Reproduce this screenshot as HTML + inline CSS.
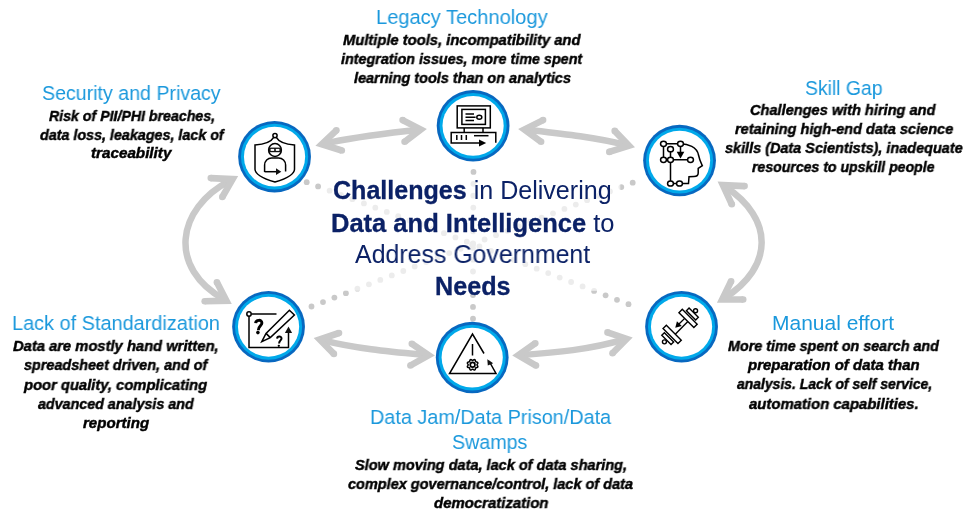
<!DOCTYPE html>
<html><head><meta charset="utf-8"><title>Challenges in Delivering Data and Intelligence</title>
<style>
html,body{margin:0;padding:0;background:#fff;}
body{width:970px;height:518px;position:relative;overflow:hidden;font-family:"Liberation Sans",sans-serif;}
svg.g{position:absolute;left:0;top:0;}
.t{position:absolute;white-space:nowrap;transform-origin:0 0;will-change:transform;}
.title{font:20.5px "Liberation Sans";line-height:20.5px;color:#1a98dc;}
.body{font:italic bold 15.0px "Liberation Sans";line-height:15.0px;color:#000000;-webkit-text-stroke:0.45px #000;}
.ctr{font-size:25.0px;line-height:25.0px;color:#0b2166;text-shadow:0 0 1px #fff,0 0 1px #fff,0 0 1px #fff;}
.cbold{font-weight:bold;-webkit-text-stroke:0.3px #0b2166;}
.creg{font-weight:normal;}
</style></head>
<body>
<svg class="g" width="970" height="518" viewBox="0 0 970 518">
<g fill="#c9c9c9"><circle cx="306.7" cy="182.2" r="2.9"/><circle cx="318.1" cy="186.4" r="2.9"/><circle cx="329.6" cy="190.7" r="2.9"/><circle cx="341.0" cy="194.9" r="2.9"/><circle cx="352.4" cy="199.2" r="2.9"/><circle cx="363.9" cy="203.4" r="2.9"/><circle cx="375.3" cy="207.7" r="2.9"/><circle cx="386.8" cy="211.9" r="2.9"/><circle cx="398.2" cy="216.2" r="2.9"/><circle cx="409.6" cy="220.4" r="2.9"/><circle cx="421.1" cy="224.7" r="2.9"/><circle cx="432.5" cy="228.9" r="2.9"/><circle cx="443.9" cy="233.2" r="2.9"/><circle cx="455.4" cy="237.4" r="2.9"/><circle cx="466.8" cy="241.7" r="2.9"/><circle cx="632.7" cy="182.7" r="2.9"/><circle cx="621.3" cy="187.1" r="2.9"/><circle cx="609.9" cy="191.4" r="2.9"/><circle cx="598.5" cy="195.8" r="2.9"/><circle cx="587.1" cy="200.2" r="2.9"/><circle cx="575.8" cy="204.6" r="2.9"/><circle cx="564.4" cy="208.9" r="2.9"/><circle cx="553.0" cy="213.3" r="2.9"/><circle cx="541.6" cy="217.7" r="2.9"/><circle cx="530.2" cy="222.0" r="2.9"/><circle cx="518.8" cy="226.4" r="2.9"/><circle cx="507.4" cy="230.8" r="2.9"/><circle cx="496.0" cy="235.2" r="2.9"/><circle cx="484.6" cy="239.5" r="2.9"/><circle cx="473.2" cy="243.9" r="2.9"/><circle cx="311.5" cy="306.5" r="2.9"/><circle cx="323.0" cy="302.1" r="2.9"/><circle cx="334.4" cy="297.6" r="2.9"/><circle cx="345.9" cy="293.2" r="2.9"/><circle cx="357.4" cy="288.7" r="2.9"/><circle cx="368.9" cy="284.3" r="2.9"/><circle cx="380.3" cy="279.9" r="2.9"/><circle cx="391.8" cy="275.4" r="2.9"/><circle cx="403.3" cy="271.0" r="2.9"/><circle cx="414.7" cy="266.5" r="2.9"/><circle cx="426.2" cy="262.1" r="2.9"/><circle cx="437.7" cy="257.7" r="2.9"/><circle cx="449.2" cy="253.2" r="2.9"/><circle cx="460.6" cy="248.8" r="2.9"/><circle cx="472.1" cy="244.4" r="2.9"/><circle cx="628.5" cy="304.2" r="2.9"/><circle cx="617.0" cy="299.8" r="2.9"/><circle cx="605.6" cy="295.3" r="2.9"/><circle cx="594.1" cy="290.9" r="2.9"/><circle cx="582.6" cy="286.4" r="2.9"/><circle cx="571.1" cy="282.0" r="2.9"/><circle cx="559.7" cy="277.6" r="2.9"/><circle cx="548.2" cy="273.1" r="2.9"/><circle cx="536.7" cy="268.7" r="2.9"/><circle cx="525.3" cy="264.2" r="2.9"/><circle cx="513.8" cy="259.8" r="2.9"/><circle cx="502.3" cy="255.4" r="2.9"/><circle cx="490.9" cy="250.9" r="2.9"/><circle cx="479.4" cy="246.5" r="2.9"/><circle cx="473.5" cy="171.9" r="2.9"/><circle cx="473.4" cy="183.8" r="2.9"/><circle cx="473.3" cy="195.7" r="2.9"/><circle cx="473.3" cy="207.6" r="2.9"/><circle cx="473.2" cy="219.5" r="2.9"/><circle cx="473.1" cy="231.4" r="2.9"/><circle cx="473.0" cy="243.3" r="2.9"/><circle cx="473.0" cy="318.7" r="2.9"/><circle cx="473.0" cy="306.9" r="2.9"/><circle cx="473.0" cy="295.1" r="2.9"/><circle cx="473.0" cy="283.3" r="2.9"/><circle cx="473.0" cy="271.5" r="2.9"/><circle cx="473.0" cy="259.7" r="2.9"/><circle cx="473.0" cy="247.9" r="2.9"/></g>
<rect x="324" y="178" width="296.3" height="112.8" fill="#fff" fill-opacity="0.65"/>
<path d="M324.28,143.71 C355.20,136.51 386.81,133.36 418.29,129.67" fill="none" stroke="#c9c9c9" stroke-width="6.5" stroke-linecap="butt"/>
<path d="M315.40,145.80 L334.12,127.91 L338.68,132.69 L328.08,142.81 L342.77,147.35 L340.83,153.65 Z" fill="#c9c9c9"/><circle cx="336.40" cy="130.30" r="3.30" fill="#c9c9c9"/><circle cx="341.80" cy="150.50" r="3.30" fill="#c9c9c9"/>
<path d="M426.90,128.90 L404.11,117.17 L401.09,123.03 L414.61,129.99 L402.60,139.18 L406.60,144.42 Z" fill="#c9c9c9"/><circle cx="402.60" cy="120.10" r="3.30" fill="#c9c9c9"/><circle cx="404.60" cy="141.80" r="3.30" fill="#c9c9c9"/>
<path d="M526.91,129.67 C560.36,133.43 593.78,136.85 626.51,145.05" fill="none" stroke="#c9c9c9" stroke-width="6.5" stroke-linecap="butt"/>
<path d="M518.10,128.90 L541.63,117.15 L544.57,123.05 L530.68,129.99 L543.06,139.15 L539.14,144.45 Z" fill="#c9c9c9"/><circle cx="543.10" cy="120.10" r="3.30" fill="#c9c9c9"/><circle cx="541.10" cy="141.80" r="3.30" fill="#c9c9c9"/>
<path d="M635.00,147.20 L617.08,128.61 L612.32,133.19 L622.87,144.13 L608.30,148.75 L610.30,155.05 Z" fill="#c9c9c9"/><circle cx="614.70" cy="130.90" r="3.30" fill="#c9c9c9"/><circle cx="609.30" cy="151.90" r="3.30" fill="#c9c9c9"/>
<path d="M230.40,180.35 C175.40,208.82 168.08,268.35 224.29,299.45" fill="none" stroke="#c9c9c9" stroke-width="6.5" stroke-linecap="butt"/>
<path d="M238.20,176.10 L210.96,174.80 L210.64,181.40 L227.06,182.18 L219.44,195.35 L225.16,198.65 Z" fill="#c9c9c9"/><circle cx="210.80" cy="178.10" r="3.30" fill="#c9c9c9"/><circle cx="222.30" cy="197.00" r="3.30" fill="#c9c9c9"/>
<path d="M231.80,303.90 L219.83,280.78 L213.97,283.82 L221.07,297.54 L204.63,297.90 L204.77,304.50 Z" fill="#c9c9c9"/><circle cx="216.90" cy="282.30" r="3.30" fill="#c9c9c9"/><circle cx="204.70" cy="301.20" r="3.30" fill="#c9c9c9"/>
<path d="M725.00,186.55 C774.31,218.67 773.67,267.11 724.29,298.18" fill="none" stroke="#c9c9c9" stroke-width="6.5" stroke-linecap="butt"/>
<path d="M717.60,181.60 L744.75,182.80 L744.45,189.40 L728.17,188.68 L734.79,202.91 L728.81,205.69 Z" fill="#c9c9c9"/><circle cx="744.60" cy="186.10" r="3.30" fill="#c9c9c9"/><circle cx="731.80" cy="204.30" r="3.30" fill="#c9c9c9"/>
<path d="M716.90,302.80 L728.13,279.75 L734.07,282.65 L727.46,296.20 L743.20,296.20 L743.20,302.80 Z" fill="#c9c9c9"/><circle cx="731.10" cy="281.20" r="3.30" fill="#c9c9c9"/><circle cx="743.20" cy="299.50" r="3.30" fill="#c9c9c9"/>
<path d="M322.16,340.04 C356.26,348.66 391.26,351.72 426.13,355.06" fill="none" stroke="#c9c9c9" stroke-width="6.5" stroke-linecap="butt"/>
<path d="M313.70,338.00 L337.95,329.87 L340.05,336.13 L325.79,340.91 L336.26,351.59 L331.54,356.21 Z" fill="#c9c9c9"/><circle cx="339.00" cy="333.00" r="3.30" fill="#c9c9c9"/><circle cx="333.90" cy="353.90" r="3.30" fill="#c9c9c9"/>
<path d="M434.90,355.40 L413.65,341.06 L409.95,346.54 L422.38,354.91 L408.77,362.63 L412.03,368.37 Z" fill="#c9c9c9"/><circle cx="411.80" cy="343.80" r="3.30" fill="#c9c9c9"/><circle cx="410.40" cy="365.50" r="3.30" fill="#c9c9c9"/>
<path d="M520.72,355.13 C555.57,352.65 590.62,349.54 624.24,339.43" fill="none" stroke="#c9c9c9" stroke-width="6.5" stroke-linecap="butt"/>
<path d="M512.20,355.50 L533.39,340.51 L537.21,345.89 L524.37,354.97 L537.67,362.75 L534.33,368.45 Z" fill="#c9c9c9"/><circle cx="535.30" cy="343.20" r="3.30" fill="#c9c9c9"/><circle cx="536.00" cy="365.60" r="3.30" fill="#c9c9c9"/>
<path d="M632.70,337.40 L608.55,329.27 L606.45,335.53 L620.62,340.30 L610.14,350.99 L614.86,355.61 Z" fill="#c9c9c9"/><circle cx="607.50" cy="332.40" r="3.30" fill="#c9c9c9"/><circle cx="612.50" cy="353.30" r="3.30" fill="#c9c9c9"/>
<ellipse cx="274.55" cy="156.7" rx="36.4" ry="35.7" fill="#0868c0"/><ellipse cx="274.55" cy="156.7" rx="33.6" ry="32.9" fill="#00a9ea"/><ellipse cx="274.55" cy="156.7" rx="30.6" ry="29.9" fill="#fff"/>
<ellipse cx="473.1" cy="125.8" rx="36.4" ry="35.7" fill="#0868c0"/><ellipse cx="473.1" cy="125.8" rx="33.6" ry="32.9" fill="#00a9ea"/><ellipse cx="473.1" cy="125.8" rx="30.6" ry="29.9" fill="#fff"/>
<ellipse cx="679.55" cy="160.55" rx="36.4" ry="35.7" fill="#0868c0"/><ellipse cx="679.55" cy="160.55" rx="33.6" ry="32.9" fill="#00a9ea"/><ellipse cx="679.55" cy="160.55" rx="30.6" ry="29.9" fill="#fff"/>
<ellipse cx="268.55" cy="326.75" rx="36.4" ry="35.7" fill="#0868c0"/><ellipse cx="268.55" cy="326.75" rx="33.6" ry="32.9" fill="#00a9ea"/><ellipse cx="268.55" cy="326.75" rx="30.6" ry="29.9" fill="#fff"/>
<ellipse cx="472.2" cy="357.55" rx="36.4" ry="35.7" fill="#0868c0"/><ellipse cx="472.2" cy="357.55" rx="33.6" ry="32.9" fill="#00a9ea"/><ellipse cx="472.2" cy="357.55" rx="30.6" ry="29.9" fill="#fff"/>
<ellipse cx="681.55" cy="326.75" rx="36.4" ry="35.7" fill="#0868c0"/><ellipse cx="681.55" cy="326.75" rx="33.6" ry="32.9" fill="#00a9ea"/><ellipse cx="681.55" cy="326.75" rx="30.6" ry="29.9" fill="#fff"/>
<g fill="none" stroke="#000" stroke-width="1.5" stroke-linejoin="miter"><circle cx="275" cy="135.6" r="2.1"/><path d="M273.7,137.4 Q270,144 255,145 V168.8 Q254.5,175.8 275,182 Q295,175.8 294.5,168.8 V145 Q280,144 276.3,137.4"/><circle cx="275" cy="150" r="6.4"/><path d="M264.6,172 V165 A7,7 0 0 1 271.6,158 H278.6 A7,7 0 0 1 285.6,165 V171.5"/><path d="M264.6,171.7 H276.5"/></g>
<g fill="#111"><path d="M276,168.3 L281.3,171.7 L276,175.1 Z"/><rect x="268.6" y="147.6" width="12.8" height="4.6"/></g><g fill="#fff"><rect x="270.6" y="148.9" width="3.6" height="2"/><rect x="275.8" y="148.9" width="3.6" height="2"/></g>
<g fill="none" stroke="#000" stroke-width="1.5"><rect x="457.2" y="105.9" width="33.1" height="22.0"/><rect x="461.9" y="109.4" width="23.5" height="15.0"/><path d="M465.5,114 H474 M465.5,117.2 H475.6 M465.5,120.5 H474"/><ellipse cx="479.3" cy="117.3" rx="2.5" ry="2.0"/><path d="M464.2,127.9 V132.5 M483.0,127.9 V132.5"/><path d="M479,143 H451.2 V132.5 H495.8 V142.8"/><path d="M456.8,135 V140 M461.5,135 V140 M466.3,135 V140"/><path d="M474,135.7 H488.5"/></g><path d="M479.0,139.5 L486.2,143 L479.0,146.5 Z" fill="#000"/>
<g fill="none" stroke="#000" stroke-width="1.5"><path d="M663.5,143.8 H680.5 M663.5,143.8 V159.8 M670.5,149.2 V183.5 M663.5,159.8 H690.5 M670.5,183.5 H679.5"/><path d="M680.5,143.8 C688,143.8 697,147 698.5,155 C699.5,160 701,163 702.3,165.7 L698.2,168.5 L698.2,173 C698.2,175.5 697,176.5 694,176.5 L689,176.8 L688.5,183.5 H679.5"/><path d="M680.5,143.8 V153"/></g><path d="M676.7,151.8 L684.3,151.8 L680.5,158.4 Z" fill="#000"/><g fill="#fff" stroke="#000" stroke-width="1.5"><ellipse cx="663.5" cy="143.8" rx="2.95" ry="2.6"/><ellipse cx="680.5" cy="143.8" rx="2.95" ry="2.6"/><ellipse cx="670.5" cy="149.2" rx="2.95" ry="2.6"/><ellipse cx="663.5" cy="159.8" rx="2.95" ry="2.6"/><ellipse cx="670.5" cy="159.8" rx="2.95" ry="2.6"/><ellipse cx="690.5" cy="159.8" rx="2.95" ry="2.6"/><ellipse cx="670.5" cy="183.5" rx="2.95" ry="2.6"/><ellipse cx="679.5" cy="183.5" rx="2.95" ry="2.6"/></g>
<g fill="none" stroke="#000" stroke-width="1.5"><path d="M251.3,314 H276.5"/><path d="M249,316.3 V347.5 H288.5 V332"/><circle cx="249" cy="314" r="2.2"/><path d="M261.8,341.7 L266,333.4 L289.4,310.2 L294.4,315.0 L270.3,337.6 Z M266,333.4 L270.3,337.6"/></g><path d="M284.9,333 L288.5,326.6 L292.1,333 Z" fill="#111"/><path d="M255.6,323.2 C255.8,319.6 261.9,319.2 261.9,323 C261.9,325.6 258.3,326.2 258.3,330.2" fill="none" stroke="#000" stroke-width="2.9"/><circle cx="257.9" cy="332.6" r="1.8" fill="#000"/><path d="M277.1,338.6 C277.2,335.9 281.5,335.7 281.5,338.4 C281.5,340.3 279.1,340.6 279.1,343.4" fill="none" stroke="#000" stroke-width="2.0"/><circle cx="278.8" cy="345.8" r="1.15" fill="#000"/>
<g fill="none" stroke="#000" stroke-width="1.5"><path d="M484,353.5 L472.5,334 L449.5,373.5 H496 L489,361"/><path d="M472.5,344 V355.5"/></g><path d="M487.3,359.2 L493.2,363.2 L487.8,365.6 Z" fill="#111"/>
<path d="M477.00,364.80 L477.07,365.09 L477.26,365.41 L477.50,365.78 L477.72,366.17 L477.83,366.57 L477.77,366.94 L477.55,367.24 L477.19,367.45 L476.76,367.58 L476.33,367.66 L475.97,367.75 L475.71,367.91 L475.55,368.17 L475.46,368.53 L475.38,368.96 L475.25,369.39 L475.04,369.75 L474.74,369.97 L474.37,370.03 L473.97,369.92 L473.58,369.70 L473.21,369.46 L472.89,369.27 L472.60,369.20 L472.31,369.27 L471.99,369.46 L471.62,369.70 L471.23,369.92 L470.83,370.03 L470.46,369.97 L470.16,369.75 L469.95,369.39 L469.82,368.96 L469.74,368.53 L469.65,368.17 L469.49,367.91 L469.23,367.75 L468.87,367.66 L468.44,367.58 L468.01,367.45 L467.65,367.24 L467.43,366.94 L467.37,366.57 L467.48,366.17 L467.70,365.78 L467.94,365.41 L468.13,365.09 L468.20,364.80 L468.13,364.51 L467.94,364.19 L467.70,363.82 L467.48,363.43 L467.37,363.03 L467.43,362.66 L467.65,362.36 L468.01,362.15 L468.44,362.02 L468.87,361.94 L469.23,361.85 L469.49,361.69 L469.65,361.43 L469.74,361.07 L469.82,360.64 L469.95,360.21 L470.16,359.85 L470.46,359.63 L470.83,359.57 L471.23,359.68 L471.62,359.90 L471.99,360.14 L472.31,360.33 L472.60,360.40 L472.89,360.33 L473.21,360.14 L473.58,359.90 L473.97,359.68 L474.37,359.57 L474.74,359.63 L475.04,359.85 L475.25,360.21 L475.38,360.64 L475.46,361.07 L475.55,361.43 L475.71,361.69 L475.97,361.85 L476.33,361.94 L476.76,362.02 L477.19,362.15 L477.55,362.36 L477.77,362.66 L477.83,363.03 L477.72,363.43 L477.50,363.82 L477.26,364.19 L477.07,364.51 Z" fill="#fff" stroke="#000" stroke-width="1.5" stroke-linejoin="round"/>
<circle cx="472.6" cy="364.8" r="2.35" fill="#fff" stroke="#000" stroke-width="1.7"/>
<circle cx="695.56" cy="310.74" r="2.0" fill="#fff" stroke="#000" stroke-width="1.4"/><path d="M686.43,310.67 L689.05,308.06 L698.31,317.32 L695.70,319.94 Z" fill="#fff" stroke="#000" stroke-width="1.4"/><path d="M678.94,312.65 L682.26,309.33 L697.18,324.25 L693.86,327.57 Z" fill="#fff" stroke="#000" stroke-width="1.4"/><circle cx="664.44" cy="341.86" r="2.0" fill="#fff" stroke="#000" stroke-width="1.4"/><path d="M664.37,332.73 L661.76,335.35 L671.02,344.61 L673.64,342.00 Z" fill="#fff" stroke="#000" stroke-width="1.4"/><path d="M666.35,325.24 L663.03,328.56 L677.95,343.48 L681.27,340.16 Z" fill="#fff" stroke="#000" stroke-width="1.4"/><path d="M687.85,321.56 L675.26,334.15" stroke="#000" stroke-width="1.4"/><path d="M684.67,318.38 L678.73,324.32" stroke="#000" stroke-width="1.4"/><path d="M675.26,327.78 L676.96,321.28 L681.77,326.09 Z" fill="#000"/>
</svg>
<div class="t title" style="left:376.46px;top:7.03px;transform:scaleX(0.9797)">Legacy Technology</div>
<div class="t body" style="left:343.00px;top:31.98px;transform:scaleX(0.9827)">Multiple tools, incompatibility and</div>
<div class="t body" style="left:341.44px;top:51.36px;transform:scaleX(0.9549)">integration issues, more time spent</div>
<div class="t body" style="left:353.50px;top:70.30px;transform:scaleX(0.9641)">learning tools than on analytics</div>
<div class="t title" style="left:41.80px;top:82.97px;transform:scaleX(0.9560)">Security and Privacy</div>
<div class="t body" style="left:49.38px;top:108.30px;transform:scaleX(0.9440)">Risk of PII/PHI breaches,</div>
<div class="t body" style="left:40.12px;top:126.98px;transform:scaleX(0.9539)">data loss, leakages, lack of</div>
<div class="t body" style="left:91.04px;top:144.98px;transform:scaleX(1.0145)">traceability</div>
<div class="t title" style="left:804.98px;top:77.59px;transform:scaleX(0.9443)">Skill Gap</div>
<div class="t body" style="left:750.42px;top:102.04px;transform:scaleX(0.9715)">Challenges with hiring and</div>
<div class="t body" style="left:735.06px;top:120.92px;transform:scaleX(0.9699)">retaining high-end data science</div>
<div class="t body" style="left:725.10px;top:139.92px;transform:scaleX(0.9630)">skills (Data Scientists), inadequate</div>
<div class="t body" style="left:752.12px;top:158.54px;transform:scaleX(0.9393)">resources to upskill people</div>
<div class="t title" style="left:12.03px;top:313.09px;transform:scaleX(0.9706)">Lack of Standardization</div>
<div class="t body" style="left:13.00px;top:338.42px;transform:scaleX(0.9827)">Data are mostly hand written,</div>
<div class="t body" style="left:24.44px;top:357.48px;transform:scaleX(0.9598)">spreadsheet driven, and of</div>
<div class="t body" style="left:24.02px;top:376.54px;transform:scaleX(0.9840)">poor quality, complicating</div>
<div class="t body" style="left:37.94px;top:395.98px;transform:scaleX(0.9528)">advanced analysis and</div>
<div class="t body" style="left:83.06px;top:414.98px;transform:scaleX(1.0051)">reporting</div>
<div class="t title" style="left:369.97px;top:406.53px;transform:scaleX(0.9664)">Data Jam/Data Prison/Data</div>
<div class="t title" style="left:452.42px;top:431.65px;transform:scaleX(0.9582)">Swamps</div>
<div class="t body" style="left:355.00px;top:456.98px;transform:scaleX(0.9684)">Slow moving data, lack of data sharing,</div>
<div class="t body" style="left:348.44px;top:476.36px;transform:scaleX(0.9657)">complex governance/control, lack of data</div>
<div class="t body" style="left:433.56px;top:495.42px;transform:scaleX(0.9953)">democratization</div>
<div class="t title" style="left:771.90px;top:313.47px;transform:scaleX(1.0238)">Manual effort</div>
<div class="t body" style="left:728.12px;top:337.86px;transform:scaleX(0.9548)">More time spent on search and</div>
<div class="t body" style="left:747.86px;top:356.98px;transform:scaleX(0.9993)">preparation of data than</div>
<div class="t body" style="left:736.88px;top:376.42px;transform:scaleX(0.9290)">analysis. Lack of self service,</div>
<div class="t body" style="left:749.44px;top:395.54px;transform:scaleX(0.9926)">automation capabilities.</div>
<div class="t ctr" style="left:333.12px;top:178.28px;transform:scaleX(1.0026)"><span class="cbold">Challenges</span><span class="creg">&#32;in&#32;Delivering</span></div>
<div class="t ctr" style="left:330.78px;top:210.60px;transform:scaleX(1.0202)"><span class="cbold">Data&#32;and&#32;Intelligence</span><span class="creg">&#32;to</span></div>
<div class="t ctr" style="left:355.38px;top:242.28px;transform:scaleX(0.9957)"><span class="creg">Address&#32;Government</span></div>
<div class="t ctr" style="left:434.85px;top:274.22px;transform:scaleX(1.0069)"><span class="cbold">Needs</span></div>
</body></html>
